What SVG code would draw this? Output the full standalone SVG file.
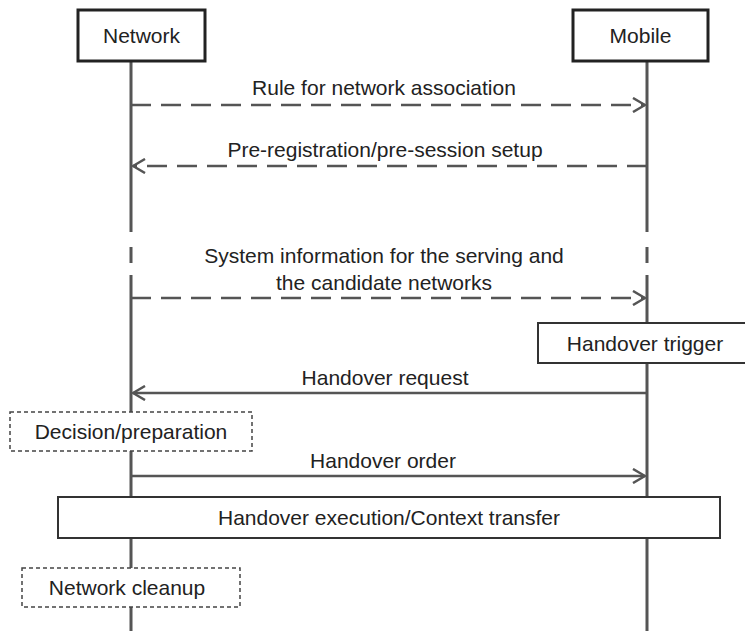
<svg xmlns="http://www.w3.org/2000/svg" width="745" height="631" viewBox="0 0 745 631">
  <style>
    text { font-family: "Liberation Sans", Arial, sans-serif; font-size: 21px; fill: #222; text-anchor: middle; }
    .head { fill: #fff; stroke: #222; stroke-width: 3; }
    .life { stroke: #555; stroke-width: 3; fill: none; }
    .msg { stroke: #555; stroke-width: 2.5; fill: none; }
    .dash { stroke-dasharray: 20 10; }
    .act { fill: #fff; stroke: #333; stroke-width: 2; }
    .proc { fill: #fff; stroke: #444; stroke-width: 1.5; stroke-dasharray: 4 3; }
  </style>
  <defs>
    <marker id="open" viewBox="0 0 14 16" refX="13" refY="8" markerWidth="14" markerHeight="16" markerUnits="userSpaceOnUse" orient="auto">
      <path d="M1,1 L13,8 L1,15" fill="none" stroke="#555" stroke-width="2.5"/>
    </marker>
  </defs>

  <!-- lifelines, with a short break between the setup and system-information phases -->
  <g id="lifelines">
    <path class="life" d="M131,61 V232 M131,247 V263 M131,275 V631"/>
    <path class="life" d="M647,61 V232 M647,247 V263 M647,275 V631"/>
  </g>

  <g id="network">
    <rect class="head" x="78" y="10" width="127" height="51"/>
    <text x="141.5" y="43">Network</text>
  </g>
  <g id="mobile">
    <rect class="head" x="573" y="10" width="135" height="51"/>
    <text x="640.5" y="43">Mobile</text>
  </g>

  <!-- messages -->
  <g id="connectors">
    <line class="msg dash" x1="131" y1="105" x2="645" y2="105" marker-end="url(#open)"/>
    <line class="msg dash" x1="647" y1="166" x2="133" y2="166" marker-end="url(#open)"/>
    <line class="msg dash" x1="131" y1="298" x2="645" y2="298" marker-end="url(#open)"/>
    <line class="msg" x1="647" y1="393" x2="133" y2="393" marker-end="url(#open)"/>
    <line class="msg" x1="131" y1="476" x2="645" y2="476" marker-end="url(#open)"/>
  </g>

  <g id="labels">
    <text x="384" y="95">Rule for network association</text>
    <text x="385" y="157">Pre-registration/pre-session setup</text>
    <text x="384" y="263">System information for the serving and</text>
    <text x="384" y="290">the candidate networks</text>
    <text x="385" y="385">Handover request</text>
    <text x="383" y="468">Handover order</text>
  </g>

  <g id="handover-trigger">
    <rect class="act" x="538" y="323" width="210" height="40"/>
    <text x="645" y="351">Handover trigger</text>
  </g>
  <g id="decision">
    <rect class="proc" x="10" y="412" width="242" height="39"/>
    <text x="131" y="439">Decision/preparation</text>
  </g>
  <g id="execution">
    <rect class="act" x="58" y="497" width="662" height="41"/>
    <text x="389" y="525">Handover execution/Context transfer</text>
  </g>
  <g id="cleanup">
    <rect class="proc" x="22" y="568" width="218" height="39"/>
    <text x="127" y="595">Network cleanup</text>
  </g>
</svg>
